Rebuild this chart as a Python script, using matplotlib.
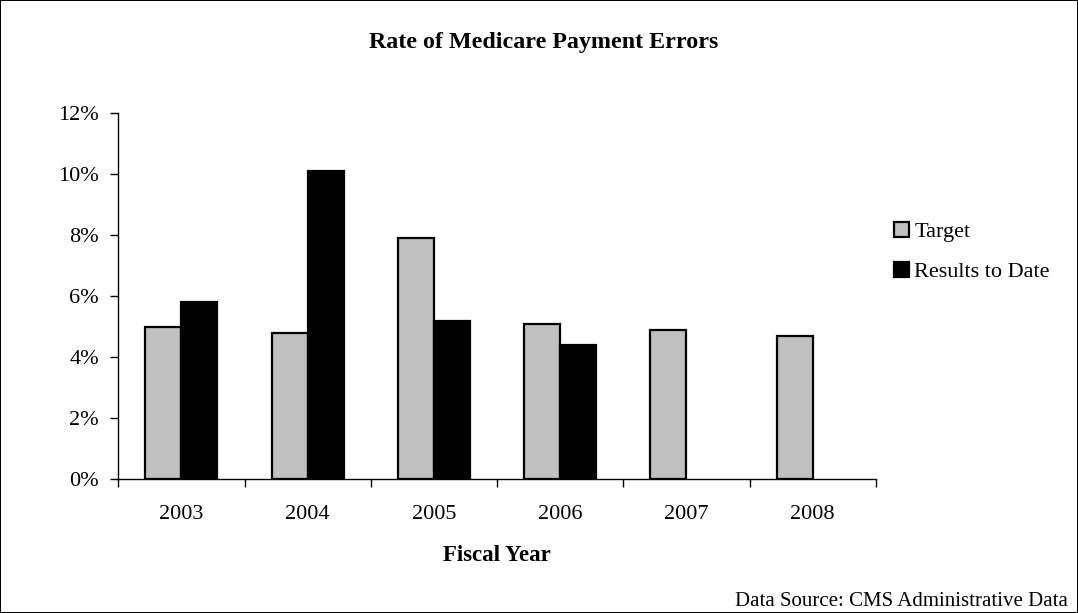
import matplotlib.pyplot as plt
import numpy as np
from matplotlib.ticker import FixedLocator, FuncFormatter

plt.rcParams['font.family'] = ['Liberation Serif', 'DejaVu Serif']

years = ['2003', '2004', '2005', '2006', '2007', '2008']
target = [5.0, 4.8, 7.9, 5.1, 4.9, 4.7]
results = [5.8, 10.1, 5.2, 4.4]

fig = plt.figure(figsize=(10.78, 6.13), dpi=100, linewidth=1.2, edgecolor='black')
ax = fig.add_axes([0.1097, 0.2186, 0.7027, 0.5966])

x = np.arange(len(years)) + 0.5
w = 1 / 3.5  # excel default gap width of 150%

ax.bar(x - w / 2, target, w, color='#c0c0c0', edgecolor='black', linewidth=1.6, label='Target')
ax.bar(x[:len(results)] + w / 2, results, w, color='black', edgecolor='black',
       linewidth=1.6, label='Results to Date')

ax.set_xlim(0, len(years))
ax.set_ylim(0, 12)
ax.set_yticks(range(0, 13, 2))
ax.yaxis.set_major_formatter(FuncFormatter(lambda v, p: f'{v:.0f}%'))
ax.set_xticks(x)
ax.set_xticklabels(years)
ax.xaxis.set_minor_locator(FixedLocator(np.arange(len(years) + 1)))
ax.tick_params(axis='x', which='major', length=0, pad=19, labelsize=16)
ax.tick_params(axis='x', which='minor', length=6, width=1)
ax.tick_params(axis='y', length=6, width=1, labelsize=16, pad=8)

for s in ['top', 'right']:
    ax.spines[s].set_visible(False)
for s in ['left', 'bottom']:
    ax.spines[s].set_linewidth(1)

ax.set_xlabel('Fiscal Year', fontsize=16.5, fontweight='bold', labelpad=15)
fig.text(0.504, 0.93, 'Rate of Medicare Payment Errors', ha='center', va='center',
         fontsize=17.3, fontweight='bold')
fig.text(0.991, 0.018, 'Data Source: CMS Administrative Data', ha='right', va='center',
         fontsize=15)

ax.legend(loc='upper left', bbox_to_anchor=(1.010, 0.734), frameon=False, fontsize=16,
          handlelength=0.65, handleheight=0.65, handletextpad=0.25, labelspacing=0.9,
          borderpad=0)

fig.savefig('out.png', dpi=100, edgecolor=fig.get_edgecolor())
